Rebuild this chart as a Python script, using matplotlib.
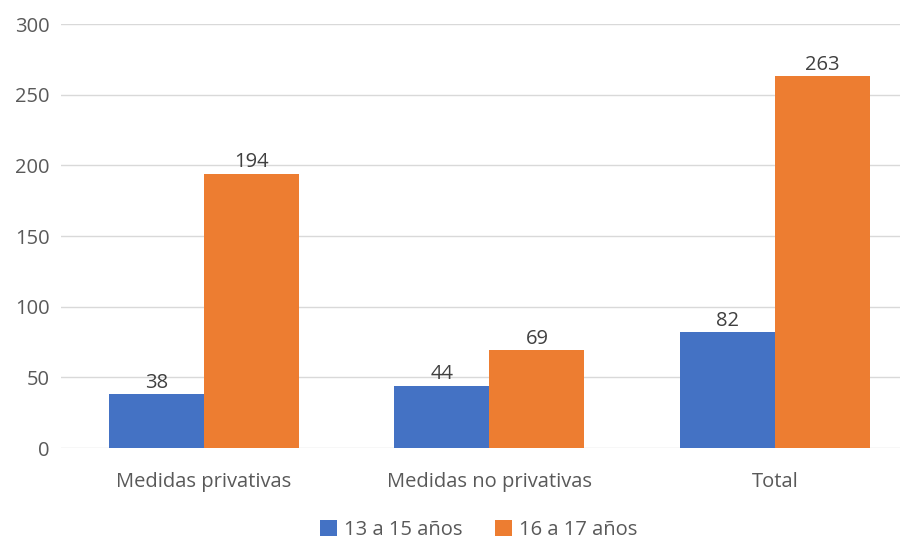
import matplotlib.pyplot as plt
import numpy as np

plt.rcParams['font.family'] = ['Open Sans', 'DejaVu Sans']

categorias = ['Medidas privativas', 'Medidas no privativas', 'Total']
series = ['13 a 15 años', '16 a 17 años']
v_13_15 = [38, 44, 82]
v_16_17 = [194, 69, 263]
colores = ['#4472C4', '#ED7D31']

fig = plt.figure(figsize=(9.08, 5.43), dpi=100)
ax = fig.add_axes([61 / 908, 95 / 543, (900 - 61) / 908, (519 - 95) / 543])

x = np.arange(len(categorias))
w = 0.333
gris = '#595959'
fs = 14.5

for i, (vals, lab) in enumerate(zip([v_13_15, v_16_17], series)):
    pos = x + (i - 0.5) * w
    bars = ax.bar(pos, vals, w, color=colores[i], label=lab, zorder=3)
    for b, v in zip(bars, vals):
        ax.text(b.get_x() + b.get_width() / 2, v + 1, str(v), ha='center', va='bottom',
                fontsize=fs, color='#404040')

ax.set_ylim(0, 300)
ax.set_xlim(-0.5, 2.438)
ax.set_yticks(range(0, 301, 50))
ax.set_xticks(x)
ax.set_xticklabels(categorias)
ax.grid(axis='y', color='#d9d9d9', linewidth=1, zorder=0)
for s in ax.spines.values():
    s.set_visible(False)
ax.tick_params(axis='both', length=0, labelsize=fs, colors=gris)
ax.tick_params(axis='y', pad=8)
ax.tick_params(axis='x', pad=17)

fig.legend(loc='lower center', ncol=2, frameon=False, fontsize=fs,
           bbox_to_anchor=(0.527, -0.028), handlelength=0.85, handleheight=0.85,
           columnspacing=1.6, handletextpad=0.35, labelcolor=gris)

fig.savefig('out.png', dpi=100)
